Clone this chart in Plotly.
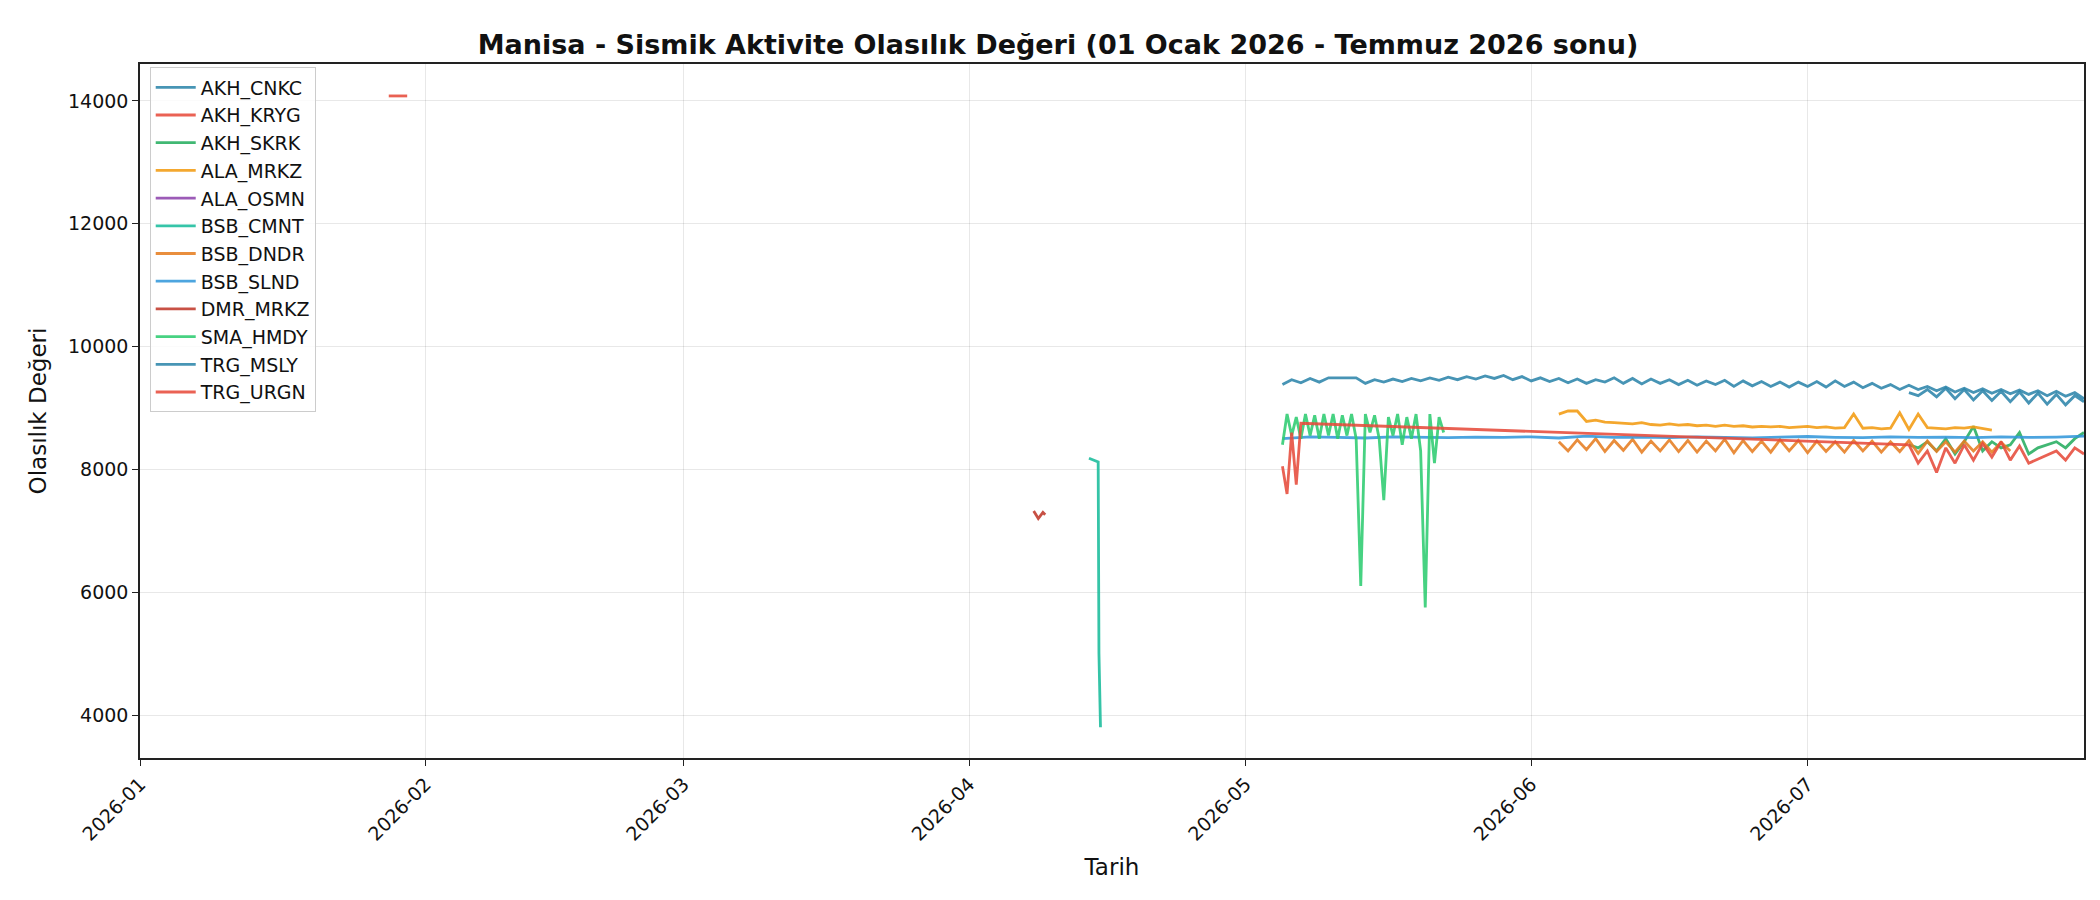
import pandas as pd
import plotly.graph_objects as go

# ---- data ----
akh_kryg_x = ["2026-01-28", "2026-01-30"]
akh_kryg_y = [14080, 14080]

ala_osmn_x = ["2026-01-01"]
ala_osmn_y = [None]

dmr_mrkz_x = ["2026-04-08 00:00", "2026-04-08 12:00", "2026-04-09 00:00", "2026-04-09 06:00"]
dmr_mrkz_y = [7320, 7200, 7300, 7260]

bsb_cmnt_x = ["2026-04-14 00:00", "2026-04-14 12:00", "2026-04-15 00:00", "2026-04-15 02:00", "2026-04-15 06:00"]
bsb_cmnt_y = [8180, 8150, 8120, 5000, 3800]

sma_hmdy_start = "2026-05-05"
sma_hmdy_y = [8400, 8900, 8550, 8850, 8500, 8900, 8550, 8880, 8500, 8900, 8550, 8900,
              8500, 8880, 8550, 8900, 8500, 6100, 8900, 8600, 8880, 8500, 7500, 8850,
              8550, 8900, 8400, 8850, 8500, 8900, 8300, 5750, 8900, 8100, 8850, 8600]

bsb_slnd_start = "2026-05-05"
bsb_slnd_y = [8500, 8530, 8520, 8510, 8530, 8520, 8515, 8525, 8520, 8530, 8510, 8540,
              8520, 8525, 8515, 8530, 8520, 8510, 8525, 8535, 8520, 8515, 8530, 8520,
              8525, 8515, 8530, 8520, 8525, 8540]

trg_msly_start = "2026-05-05"
trg_msly_y = [9380, 9460, 9410, 9480, 9420, 9490, 9490, 9490, 9490, 9400, 9460, 9420,
              9470, 9430, 9480, 9440, 9490, 9450, 9500, 9460, 9510, 9470, 9520, 9480,
              9530, 9460, 9510, 9440, 9490, 9430, 9480, 9410, 9470, 9400, 9460, 9420,
              9490, 9400, 9480, 9390, 9470, 9400, 9460, 9380, 9450, 9370, 9440, 9380,
              9450, 9350, 9440, 9360, 9430, 9350, 9420, 9340, 9420, 9350, 9430, 9340,
              9440, 9350, 9420, 9330, 9400, 9320, 9380, 9300, 9370, 9300, 9350, 9280,
              9340, 9260, 9320, 9250, 9310, 9240, 9300, 9230, 9290, 9220, 9280, 9200,
              9270, 9190, 9250, 9150]

akh_cnkc_start = "2026-07-12"
akh_cnkc_y = [9250, 9200, 9300, 9180, 9320, 9150, 9300, 9130, 9280, 9120, 9270, 9100,
              9260, 9080, 9240, 9060, 9220, 9050, 9200, 9100]

trg_urgn_x = ["2026-05-05 00:00", "2026-05-05 12:00", "2026-05-06 00:00", "2026-05-06 12:00",
              "2026-05-07 00:00", "2026-07-12 00:00", "2026-07-13", "2026-07-14", "2026-07-15",
              "2026-07-16", "2026-07-17", "2026-07-18", "2026-07-19", "2026-07-20",
              "2026-07-21", "2026-07-22", "2026-07-23", "2026-07-24", "2026-07-25",
              "2026-07-28", "2026-07-29", "2026-07-30", "2026-07-31"]
trg_urgn_y = [8050, 7600, 8600, 7750, 8750, 8400, 8100, 8300, 7950, 8350, 8100, 8400,
              8150, 8420, 8200, 8450, 8150, 8380, 8100, 8300, 8150, 8350, 8250]

ala_mrkz_start = "2026-06-04"
ala_mrkz_y = [8900, 8950, 8950, 8780, 8800, 8770, 8760, 8750, 8740, 8760, 8730, 8720,
              8740, 8720, 8730, 8710, 8720, 8700, 8720, 8700, 8710, 8690, 8700, 8690,
              8700, 8680, 8690, 8700, 8680, 8690, 8670, 8680, 8900, 8670, 8680, 8660,
              8670, 8920, 8650, 8900, 8680, 8670, 8660, 8680, 8670, 8690, 8660, 8640]

bsb_dndr_start = "2026-06-04"
bsb_dndr_y = [8450, 8300, 8480, 8320, 8500, 8290, 8470, 8310, 8490, 8280, 8460, 8300,
              8480, 8290, 8470, 8280, 8460, 8300, 8490, 8270, 8470, 8290, 8460, 8280,
              8480, 8300, 8470, 8270, 8460, 8290, 8450, 8280, 8470, 8300, 8460, 8280,
              8450, 8290, 8470, 8260, 8460, 8290, 8450, 8280, 8460, 8300, 8450, 8280,
              8440, 8300]

akh_skrk_start = "2026-07-12"
akh_skrk_y = [8400, 8350, 8450, 8300, 8500, 8250, 8450, 8700, 8300, 8450, 8350, 8400,
              8600, 8250, 8350, 8400, 8450, 8350, 8500, 8600]

tick_vals = ["2026-01-01", "2026-02-01", "2026-03-01", "2026-04-01", "2026-05-01", "2026-06-01", "2026-07-01"]
tick_text = ["2026-01", "2026-02", "2026-03", "2026-04", "2026-05", "2026-06", "2026-07"]
y_ticks = [4000, 6000, 8000, 10000, 12000, 14000]

def days(start, vals, freq="D"):
    return pd.date_range(start, periods=len(vals), freq=freq)

series = [
    ("AKH_CNKC", days(akh_cnkc_start, akh_cnkc_y), akh_cnkc_y, "#2E86AB"),
    ("AKH_KRYG", akh_kryg_x, akh_kryg_y, "#E74C3C"),
    ("AKH_SKRK", days(akh_skrk_start, akh_skrk_y), akh_skrk_y, "#27AE60"),
    ("ALA_MRKZ", days(ala_mrkz_start, ala_mrkz_y), ala_mrkz_y, "#F39C12"),
    ("ALA_OSMN", ala_osmn_x, ala_osmn_y, "#8E44AD"),
    ("BSB_CMNT", bsb_cmnt_x, bsb_cmnt_y, "#1ABC9C"),
    ("BSB_DNDR", days(bsb_dndr_start, bsb_dndr_y), bsb_dndr_y, "#E67E22"),
    ("BSB_SLND", days(bsb_slnd_start, bsb_slnd_y, "3D"), bsb_slnd_y, "#3498DB"),
    ("DMR_MRKZ", dmr_mrkz_x, dmr_mrkz_y, "#C0392B"),
    ("SMA_HMDY", days(sma_hmdy_start, sma_hmdy_y, "12h"), sma_hmdy_y, "#2ECC71"),
    ("TRG_MSLY", days(trg_msly_start, trg_msly_y), trg_msly_y, "#2E86AB"),
    ("TRG_URGN", trg_urgn_x, trg_urgn_y, "#E74C3C"),
]

fig = go.Figure()
for name, x, y, c in series:
    fig.add_trace(go.Scatter(x=list(x), y=y, name=name, mode="lines", showlegend=True,
                             line=dict(color=c, width=2.8), opacity=0.88))

axis_common = dict(showline=True, linecolor="#222", linewidth=1.5, mirror=True,
                   ticks="outside", tickcolor="#222", ticklen=6,
                   showgrid=True, gridcolor="rgba(0,0,0,0.09)", zeroline=False,
                   tickfont=dict(size=19, color="#111"))

fig.update_layout(
    width=2100, height=900,
    paper_bgcolor="white", plot_bgcolor="white",
    font=dict(family="DejaVu Sans", color="#111"),
    margin=dict(l=132, r=24, t=56, b=150),
    title=dict(text="<b>Manisa - Sismik Aktivite Olasılık Değeri (01 Ocak 2026 - Temmuz 2026 sonu)</b>",
               x=0.5, xanchor="center", y=0.97, font=dict(size=27)),
    xaxis=dict(range=["2026-01-01", "2026-07-31"], tickvals=tick_vals, ticktext=tick_text,
               tickangle=-45, title=dict(text="Tarih", font=dict(size=23)), **axis_common),
    yaxis=dict(range=[3300, 14600], tickvals=y_ticks, ticktext=[str(v) for v in y_ticks],
               title=dict(text="Olasılık Değeri", font=dict(size=23)), **axis_common),
    legend=dict(x=0.005, y=0.995, xanchor="left", yanchor="top",
                bgcolor="rgba(255,255,255,0.8)", bordercolor="#ccc", borderwidth=1,
                font=dict(size=19), tracegroupgap=0, itemwidth=40),
)
fig.write_html("out.html")
